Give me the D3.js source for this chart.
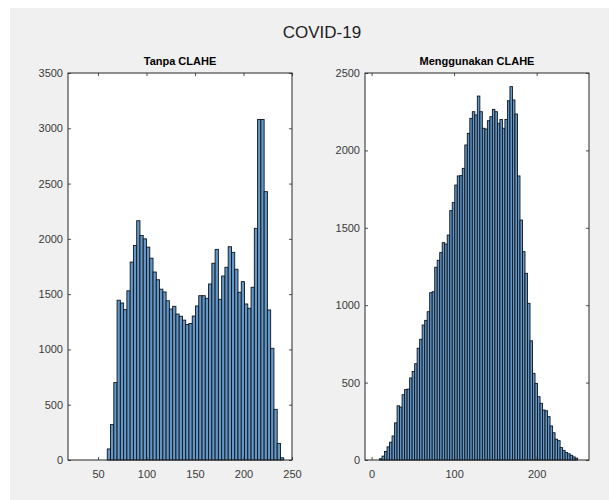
<!DOCTYPE html>
<html>
<head>
<meta charset="utf-8">
<script src="https://cdn.jsdelivr.net/npm/d3@7/dist/d3.min.js"></script>
<style>
  body { margin: 0; background: #ffffff; }
  svg { display: block; }
  .tick text { font-family: "Liberation Sans", Arial, sans-serif; }
</style>
</head>
<body>
<svg id="fig" width="609" height="500"></svg>
<script>
// Histogram counts of pixel intensities, left: original image, right: after CLAHE
const leftCounts = [100, 320, 700, 1445, 1420, 1360, 1530, 1790, 1940, 2164,
  2030, 2000, 1925, 1825, 1700, 1630, 1545, 1520, 1440, 1365,
  1390, 1320, 1300, 1265, 1225, 1235, 1302, 1393, 1486, 1486,
  1462, 1592, 1779, 1905, 1453, 1664, 1743, 1929, 1878, 1725,
  1517, 1613, 1411, 1372, 1562, 2095, 3080, 3080, 2427, 1357,
  1010, 458, 150, 20];
const leftBinStart = 59.5;
const leftBinWidth = 3.37;

const rightCounts = [8, 25, 55, 85, 115, 155, 240, 350, 342, 422,
  455, 458, 530, 572, 622, 722, 780, 872, 902, 958,
  1081, 1087, 1245, 1290, 1340, 1404, 1395, 1453, 1611, 1663,
  1776, 1835, 1837, 1884, 2035, 2110, 2207, 2250, 2229, 2351,
  2250, 2143, 2138, 2192, 2218, 2265, 2250, 2175, 2200, 2143,
  2200, 2321, 2412, 2326, 2235, 1835, 1550, 1346, 1206, 1012,
  770, 560, 495, 409, 366, 323, 318, 280, 220, 176,
  134, 125, 80, 62, 48, 40, 30, 20, 12];
const rightBinStart = 9.6;
const rightBinWidth = 3.04;

const leftXLimits = [19, 250];
const leftYLimits = [0, 3500];
const rightXLimits = [-8, 263.5];
const rightYLimits = [0, 2500];

const leftXTicks = [50, 100, 150, 200, 250];
const leftYTicks = [0, 500, 1000, 1500, 2000, 2500, 3000, 3500];
const rightXTicks = [0, 100, 200];
const rightYTicks = [0, 500, 1000, 1500, 2000, 2500];

const figTitle = "COVID-19";
const panelTitles = ["Tanpa CLAHE", "Menggunakan CLAHE"];

const svg = d3.select("#fig");
const FONT = '"Liberation Sans", Arial, Helvetica, sans-serif';
const AXIS_COLOR = "#262626";
const BAR_FILL = "#6497c6";
const BAR_EDGE = "#0d1620";

// figure background
svg.append("rect")
  .attr("x", 10).attr("y", 8)
  .attr("width", 599).attr("height", 492)
  .attr("fill", "#f0f0f0");

svg.append("text")
  .attr("x", 322).attr("y", 38)
  .attr("text-anchor", "middle")
  .attr("font-family", FONT)
  .attr("font-size", 17)
  .attr("fill", "#222222")
  .text(figTitle);

function drawPanel(box, counts, binStart, binWidth, xLim, yLim, xTicks, yTicks, title) {
  const x = d3.scaleLinear().domain(xLim).range([box.left, box.right]);
  const y = d3.scaleLinear().domain(yLim).range([box.bottom, box.top]);
  const g = svg.append("g");

  g.append("rect")
    .attr("x", box.left).attr("y", box.top)
    .attr("width", box.right - box.left).attr("height", box.bottom - box.top)
    .attr("fill", "#ffffff");

  const bins = counts.map((c, i) => ({
    x0: binStart + i * binWidth,
    x1: binStart + (i + 1) * binWidth,
    count: c
  }));

  g.append("g").selectAll("rect")
    .data(bins)
    .join("rect")
    .attr("x", d => x(d.x0))
    .attr("width", d => x(d.x1) - x(d.x0))
    .attr("y", d => y(d.count))
    .attr("height", d => y(0) - y(d.count))
    .attr("fill", BAR_FILL)
    .attr("stroke", BAR_EDGE)
    .attr("stroke-width", 0.9);

  const tick = 3;
  const styleAxis = (sel, showText) => {
    sel.select(".domain").remove();
    sel.selectAll(".tick line").attr("stroke", AXIS_COLOR).attr("stroke-width", 0.8);
    sel.selectAll(".tick text")
      .attr("fill", "#3a3a3a")
      .attr("font-size", 11)
      .attr("font-family", FONT)
      .style("display", showText ? null : "none");
  };

  g.append("g")
    .attr("transform", `translate(0,${box.bottom})`)
    .call(d3.axisBottom(x).tickValues(xTicks).tickSize(-tick).tickPadding(10).tickFormat(d3.format("d")))
    .call(s => styleAxis(s, true));
  g.append("g")
    .attr("transform", `translate(0,${box.top})`)
    .call(d3.axisTop(x).tickValues(xTicks).tickSize(-tick))
    .call(s => styleAxis(s, false));
  g.append("g")
    .attr("transform", `translate(${box.left},0)`)
    .call(d3.axisLeft(y).tickValues(yTicks).tickSize(-tick).tickPadding(5).tickFormat(d3.format("d")))
    .call(s => styleAxis(s, true));
  g.append("g")
    .attr("transform", `translate(${box.right},0)`)
    .call(d3.axisRight(y).tickValues(yTicks).tickSize(-tick))
    .call(s => styleAxis(s, false));

  g.append("rect")
    .attr("x", box.left).attr("y", box.top)
    .attr("width", box.right - box.left).attr("height", box.bottom - box.top)
    .attr("fill", "none")
    .attr("stroke", AXIS_COLOR)
    .attr("stroke-width", 1);

  g.append("text")
    .attr("x", (box.left + box.right) / 2).attr("y", box.top - 8)
    .attr("text-anchor", "middle")
    .attr("font-family", FONT)
    .attr("font-weight", "bold")
    .attr("font-size", 11)
    .attr("fill", "#000000")
    .text(title);
}

drawPanel({ left: 68, right: 292, top: 73, bottom: 460 },
  leftCounts, leftBinStart, leftBinWidth, leftXLimits, leftYLimits, leftXTicks, leftYTicks, panelTitles[0]);
drawPanel({ left: 365, right: 589, top: 73, bottom: 460 },
  rightCounts, rightBinStart, rightBinWidth, rightXLimits, rightYLimits, rightXTicks, rightYTicks, panelTitles[1]);
</script>
</body>
</html>
